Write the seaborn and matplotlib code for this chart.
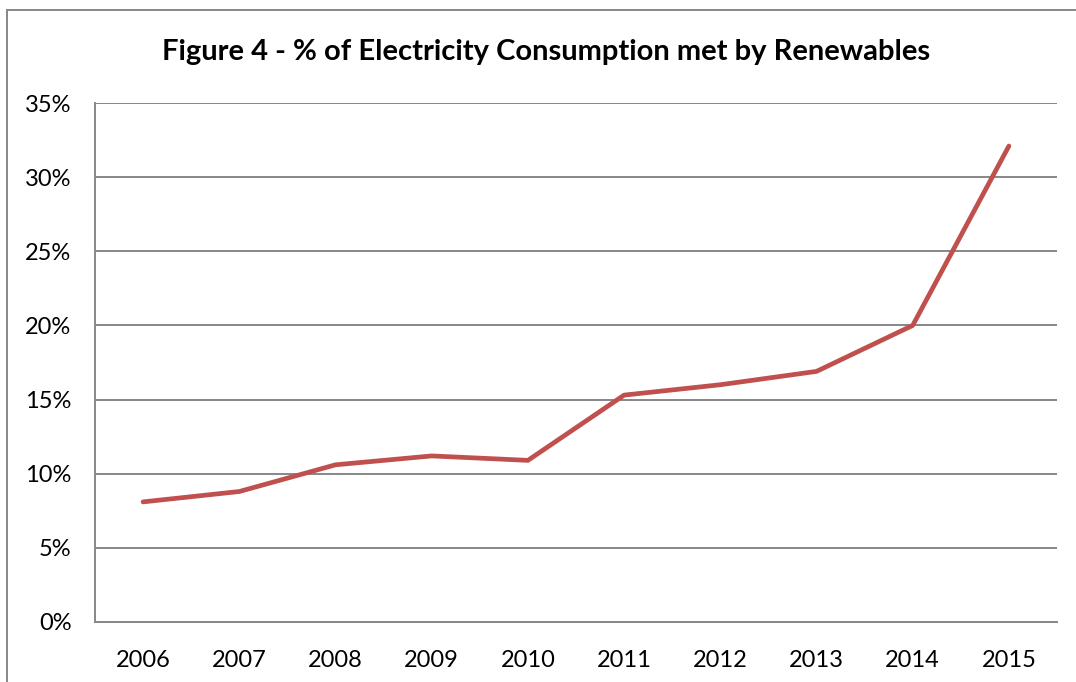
import matplotlib
matplotlib.use("Agg")
import matplotlib.pyplot as plt
import matplotlib.lines as mlines
import matplotlib.ticker as mticker
import seaborn as sns
import pandas as pd
import numpy as np

years = ["2006", "2007", "2008", "2009", "2010", "2011", "2012", "2013", "2014", "2015"]
share = [8.1, 8.8, 10.6, 11.2, 10.9, 15.3, 16.0, 16.9, 20.0, 32.1]
y_ticks = [0, 5, 10, 15, 20, 25, 30, 35]
title = "Figure 4 - % of Electricity Consumption met by Renewables"

sns.set_theme(style="white")
plt.rcParams['font.family'] = ['Lato', 'DejaVu Sans']

df = pd.DataFrame({"year": years, "share": share})

W, H = 1076, 682
fig = plt.figure(figsize=(W / 100, H / 100), dpi=100)
ax = fig.add_axes([95 / W, 1 - 622 / H, (1057 - 95) / W, (622 - 103) / H])

grey = "#878787"
ax.yaxis.grid(True, color=grey, linewidth=1.4)
ax.set_axisbelow(True)

sns.lineplot(data=df, x="year", y="share", ax=ax, color="#C0504D",
             linewidth=3.4, solid_capstyle="round", solid_joinstyle="round",
             sort=False)

ax.set_ylim(0, 35)
ax.set_yticks(y_ticks)
ax.yaxis.set_major_formatter(mticker.FuncFormatter(lambda v, p: f"{int(v)}%"))
ax.set_xlim(-0.5, len(years) - 0.5)
ax.set_xticks(range(len(years)))
ax.set_xticklabels(years)
ax.set_xticks(np.arange(-0.5, len(years), 1.0), minor=True)
ax.tick_params(axis="x", which="major", length=0, pad=20, labelsize=17, colors="black")
ax.tick_params(axis="x", which="minor", length=8, width=1.4, color=grey, direction="out")
ax.tick_params(axis="y", which="major", length=8, width=1.4, color=grey, direction="out",
               pad=9, labelsize=17, labelcolor="black")
ax.set_xlabel("")
ax.set_ylabel("")

for side in ["top", "right"]:
    ax.spines[side].set_visible(False)
for side in ["left", "bottom"]:
    ax.spines[side].set_color(grey)
    ax.spines[side].set_linewidth(1.4)

fig.text(546 / W, 1 - 52 / H, title, ha="center", va="center",
         fontsize=21, fontweight="bold", color="black")

# outer chart border (top and left visible)
fig.add_artist(mlines.Line2D([7 / W, 1.0], [1 - 10 / H, 1 - 10 / H], transform=fig.transFigure,
                             color=grey, linewidth=1.4))
fig.add_artist(mlines.Line2D([7 / W, 7 / W], [0.0, 1 - 10 / H], transform=fig.transFigure,
                             color=grey, linewidth=1.4))

fig.savefig("out.png", dpi=100)
